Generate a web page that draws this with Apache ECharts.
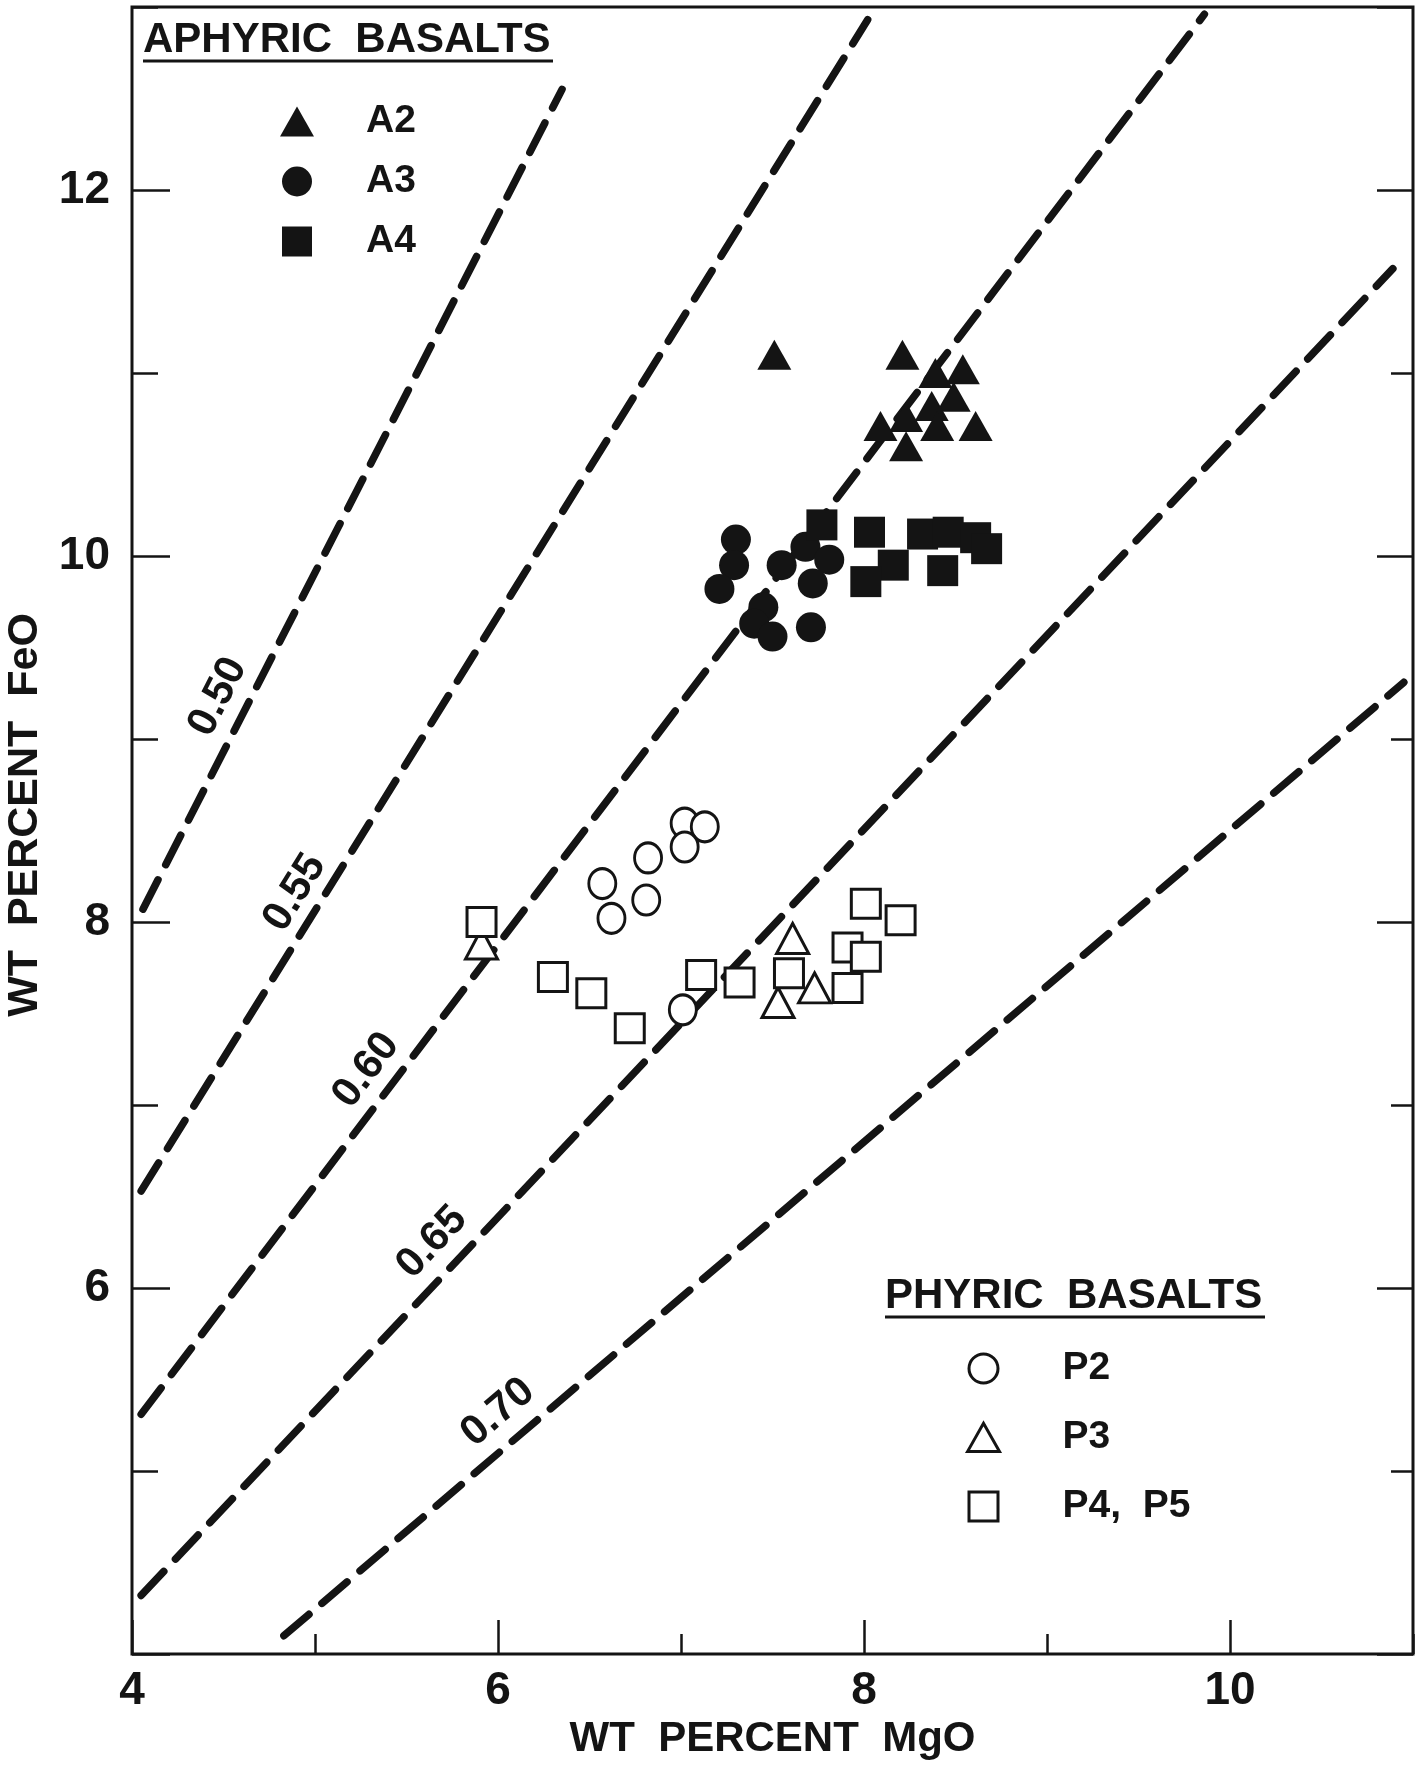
<!DOCTYPE html>
<html>
<head>
<meta charset="utf-8">
<title>FeO vs MgO</title>
<script src="https://cdn.jsdelivr.net/npm/echarts@6/dist/echarts.min.js"></script>
<style>
	html, body { margin: 0; padding: 0; background: #fff; }
	#chart { width: 1419px; height: 1775px; }
</style>
</head>
<body>
<div id="chart"></div>
<script>
// aphyric basalts (filled symbols), [MgO, FeO]
var a2 = [[7.51, 11.10], [8.21, 11.10], [8.39, 11.00], [8.54, 11.02], [8.49, 10.87], [8.37, 10.82],
	[8.23, 10.76], [8.09, 10.71], [8.40, 10.71], [8.61, 10.71], [8.23, 10.60]];
var a3 = [[7.30, 10.09], [7.29, 9.95], [7.21, 9.82], [7.55, 9.95], [7.68, 10.05], [7.81, 9.98],
	[7.72, 9.85], [7.45, 9.72], [7.40, 9.63], [7.50, 9.56], [7.71, 9.61]];
var a4 = [[7.77, 10.17], [8.03, 10.13], [8.16, 9.95], [8.01, 9.86], [8.32, 10.12], [8.46, 10.13],
	[8.61, 10.10], [8.67, 10.04], [8.43, 9.92]];

// phyric basalts (open symbols)
var p2 = [[7.02, 8.54], [7.13, 8.52], [7.02, 8.41], [6.82, 8.35], [6.57, 8.21], [6.81, 8.12],
	[6.62, 8.02], [7.01, 7.52]];
var p3 = [[5.91, 7.88], [7.61, 7.91], [7.73, 7.64], [7.53, 7.56]];
var p45 = [[5.91, 8.00], [6.30, 7.70], [6.51, 7.61], [6.72, 7.42], [7.11, 7.71], [7.32, 7.67],
	[7.59, 7.72], [7.91, 7.86], [8.01, 7.81], [8.01, 8.10], [8.20, 8.01], [7.91, 7.64]];

// Mg# contours: ends of each dashed line and where its label sits
var mgNumbers = ['0.50', '0.55', '0.60', '0.65', '0.70'];
var contourStart = [[4.06, 8.07], [4.05, 6.53], [4.05, 5.31], [4.05, 4.32], [4.83, 4.10]];
var contourEnd = [[6.35, 12.55], [8.02, 12.93], [9.86, 12.96], [10.89, 11.57], [10.95, 9.31]];
var contourLabelAt = [[4.47, 9.23], [4.89, 8.16], [5.28, 7.19], [5.64, 6.25], [6.00, 5.32]];

var xRange = [4, 11];
var yRange = [4, 13];

var INK = '#141414';
var FONT = "'Liberation Sans', Arial, sans-serif";

// legend icons as paths so they keep their shape
var TRI = 'path://M0,30L17,0L34,30Z';
var SQR = 'path://M0,0L30,0L30,30L0,30Z';

var myChart = echarts.init(document.getElementById('chart'));

function tickAxis(pos, interval, len, labels) {
	var ax = {
		type: 'value',
		position: pos,
		min: pos === 'bottom' ? xRange[0] : yRange[0],
		max: pos === 'bottom' ? xRange[1] : yRange[1],
		interval: interval,
		splitLine: { show: false },
		axisLine: { show: false, onZero: false },
		axisTick: { show: true, inside: true, length: len, lineStyle: { color: INK, width: 2.5 } },
		axisLabel: { show: false }
	};
	if (labels) {
		ax.axisLabel = {
			show: true,
			margin: pos === 'bottom' ? 14 : 22,
			color: INK,
			fontSize: 46,
			fontWeight: 'bold',
			fontFamily: FONT,
			showMaxLabel: false,
			formatter: function (v) {
				if (pos === 'bottom') return v <= 10 ? String(v) : '';
				return (v >= 6 && v <= 12) ? String(v) : '';
			}
		};
	}
	return ax;
}

var xMajor = tickAxis('bottom', 2, 34, true);
xMajor.name = 'WT  PERCENT  MgO';
xMajor.nameLocation = 'middle';
xMajor.nameGap = 64;
xMajor.nameTextStyle = { color: INK, fontSize: 42, fontWeight: 'bold', fontFamily: FONT };

var series = [];

mgNumbers.forEach(function (m, i) {
	series.push({
		name: 'Mg# ' + m,
		type: 'line',
		data: [contourStart[i], contourEnd[i]],
		symbol: 'none',
		silent: true,
		z: 1,
		lineStyle: { color: INK, width: 7.5, type: [33, 17], cap: 'round' }
	});
});

series.push({
	name: 'contour labels',
	type: 'custom',
	silent: true,
	z: 2,
	data: contourLabelAt.map(function (p, i) { return [p[0], p[1], i]; }),
	renderItem: function (params, api) {
		var i = api.value(2);
		var c = api.coord([api.value(0), api.value(1)]);
		var p1 = api.coord(contourStart[i]);
		var p2 = api.coord(contourEnd[i]);
		var angle = Math.atan2(p1[1] - p2[1], p2[0] - p1[0]);
		return {
			type: 'text',
			x: c[0],
			y: c[1],
			rotation: angle,
			style: {
				text: mgNumbers[i],
				font: 'bold 42px ' + FONT,
				fill: INK,
				align: 'center',
				verticalAlign: 'middle'
			}
		};
	}
});

function filled(name, data, symbol, size) {
	return {
		name: name, type: 'scatter', data: data, symbol: symbol, symbolSize: size, z: 3,
		itemStyle: { color: INK, opacity: 1 }
	};
}
function open(name, data, symbol, size) {
	return {
		name: name, type: 'scatter', data: data, symbol: symbol, symbolSize: size, z: 3,
		itemStyle: { color: '#fff', borderColor: INK, borderWidth: 3, opacity: 1 }
	};
}

series.push(filled('A2', a2, 'triangle', [34, 30]));
series.push(filled('A3', a3, 'circle', 30));
series.push(filled('A4', a4, 'rect', 31));
series.push(open('P2', p2, 'circle', [27, 30]));
series.push(open('P3', p3, 'triangle', [32, 30]));
series.push(open('P4,  P5', p45, 'rect', 29));

var openStyle = { color: '#fff', borderColor: INK, borderWidth: 3 };

option = {
	animation: false,
	backgroundColor: '#fff',
	textStyle: { fontFamily: FONT },
	grid: {
		left: 132, right: 6, top: 7, bottom: 121,
		show: true, borderColor: INK, borderWidth: 3,
		containLabel: false, outerBoundsMode: 'none'
	},
	xAxis: [xMajor, tickAxis('bottom', 1, 20, false)],
	yAxis: [tickAxis('left', 2, 38, true), tickAxis('left', 1, 26, false), tickAxis('right', 2, 36, false), tickAxis('right', 1, 22, false)],
	legend: [{
		orient: 'vertical', left: 280, top: 102, padding: 0,
		itemWidth: 34, itemHeight: 30, itemGap: 21, selectedMode: false, symbolKeepAspect: true,
		textStyle: { color: INK, fontSize: 39, fontWeight: 'bold', fontFamily: FONT, padding: [0, 0, 0, 47] },
		data: [
			{ name: 'A2', icon: TRI, itemStyle: { color: INK } },
			{ name: 'A3', icon: 'circle', itemStyle: { color: INK } },
			{ name: 'A4', icon: SQR, itemStyle: { color: INK } }
		]
	}, {
		orient: 'vertical', left: 966, top: 1349, padding: 0,
		itemWidth: 32, itemHeight: 29, itemGap: 30, selectedMode: false, symbolKeepAspect: true,
		textStyle: { color: INK, fontSize: 39, fontWeight: 'bold', fontFamily: FONT, padding: [0, 0, 0, 58] },
		data: [
			{ name: 'P2', icon: 'circle', itemStyle: openStyle },
			{ name: 'P3', icon: TRI, itemStyle: openStyle },
			{ name: 'P4,  P5', icon: SQR, itemStyle: openStyle }
		]
	}],
	graphic: [
		{ type: 'text', x: 143, y: 40, style: { text: 'APHYRIC  BASALTS', font: 'bold 42px ' + FONT, fill: INK, align: 'left', verticalAlign: 'middle' } },
		{ type: 'line', shape: { x1: 143, y1: 61, x2: 553, y2: 61 }, style: { stroke: INK, lineWidth: 3 } },
		{ type: 'text', x: 885, y: 1296, style: { text: 'PHYRIC  BASALTS', font: 'bold 42px ' + FONT, fill: INK, align: 'left', verticalAlign: 'middle' } },
		{ type: 'line', shape: { x1: 885, y1: 1317, x2: 1265, y2: 1317 }, style: { stroke: INK, lineWidth: 3 } },
		// y axis title, placed as in the original figure
		{ type: 'text', x: 25, y: 815, rotation: Math.PI / 2, style: { text: 'WT  PERCENT  FeO', font: 'bold 43px ' + FONT, fill: INK, align: 'center', verticalAlign: 'middle' } }
	],
	series: series
};

myChart.setOption(option);
</script>
</body>
</html>
